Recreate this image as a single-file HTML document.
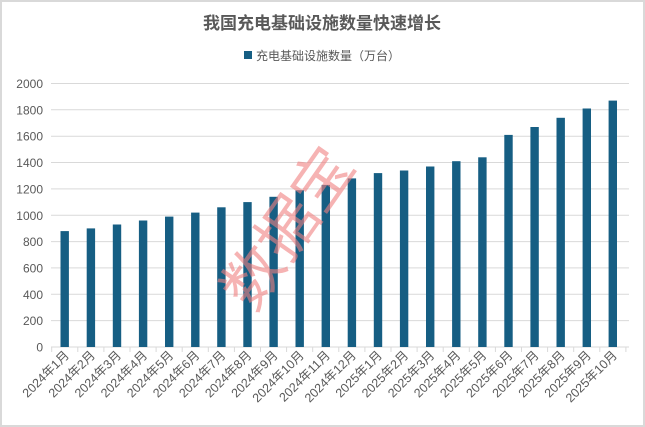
<!DOCTYPE html>
<html><head><meta charset="utf-8"><style>
html,body{margin:0;padding:0;background:#fff}
svg{display:block}
text{font-family:"Liberation Sans","Noto Sans CJK SC",sans-serif}
</style></head><body>
<svg width="645" height="427" xmlns="http://www.w3.org/2000/svg">
<rect x="1" y="1" width="643" height="425" fill="#fff" stroke="#d9d9d9" stroke-width="2"/>
<text x="322" y="29" text-anchor="middle" font-size="17" font-weight="bold" fill="#595959">我国充电基础设施数量快速增长</text>
<rect x="244" y="51" width="8" height="8" fill="#165e83"/>
<text x="256" y="60" font-size="12" fill="#595959">充电基础设施数量（万台）</text>
<g id="grid" stroke="#d9d9d9" stroke-width="1"></g>
<g id="ylab" font-size="12" fill="#595959" text-anchor="end"></g>
<g id="bars" fill="#165e83"></g>
<g id="xlab" font-size="12.5" fill="#595959"></g>
<text x="0" y="0" font-size="60" fill="#f08080" fill-opacity="0.6" text-anchor="middle" transform="translate(305,240) rotate(-55)">数据宝</text>
</svg>
<script>
var ns="http://www.w3.org/2000/svg";
function el(t,a,p,txt){var e=document.createElementNS(ns,t);for(var k in a)e.setAttribute(k,a[k]);if(txt)e.textContent=txt;document.getElementById(p).appendChild(e);}
var y0=347,sc=0.13175,x0=51.7,cw=26.1;
for(var v=0;v<=2000;v+=200){var y=y0-v*sc;if(v>0)el('line',{x1:51,x2:629,y1:y.toFixed(1),y2:y.toFixed(1)},'grid');el('text',{x:43,y:(y+4.5).toFixed(1)},'ylab',String(v));}
el('line',{x1:51,x2:629,y1:y0,y2:y0},'grid');
var vals=[880,900,930,960,990,1020,1060,1100,1140,1190,1230,1280,1320,1340,1370,1410,1440,1610,1670,1740,1810,1870];
for(var i=0;i<22;i++){var cx=x0+cw*(i+0.5);var h=vals[i]*sc;
el('rect',{x:(cx-4.2).toFixed(1),y:(y0-h).toFixed(1),width:8.4,height:h.toFixed(1)},'bars');
el('line',{x1:(x0+cw*i).toFixed(1),x2:(x0+cw*i).toFixed(1),y1:y0,y2:y0+5},'grid');
var lab=(i<12?'2024年'+(i+1):'2025年'+(i-11))+'月';
el('text',{x:0,y:0,'text-anchor':'end',transform:'translate('+(cx+5).toFixed(1)+','+(y0+9)+') rotate(-45)'},'xlab',lab);}
el('line',{x1:(x0+cw*22).toFixed(1),x2:(x0+cw*22).toFixed(1),y1:y0,y2:y0+5},'grid');
</script>
</body></html>
